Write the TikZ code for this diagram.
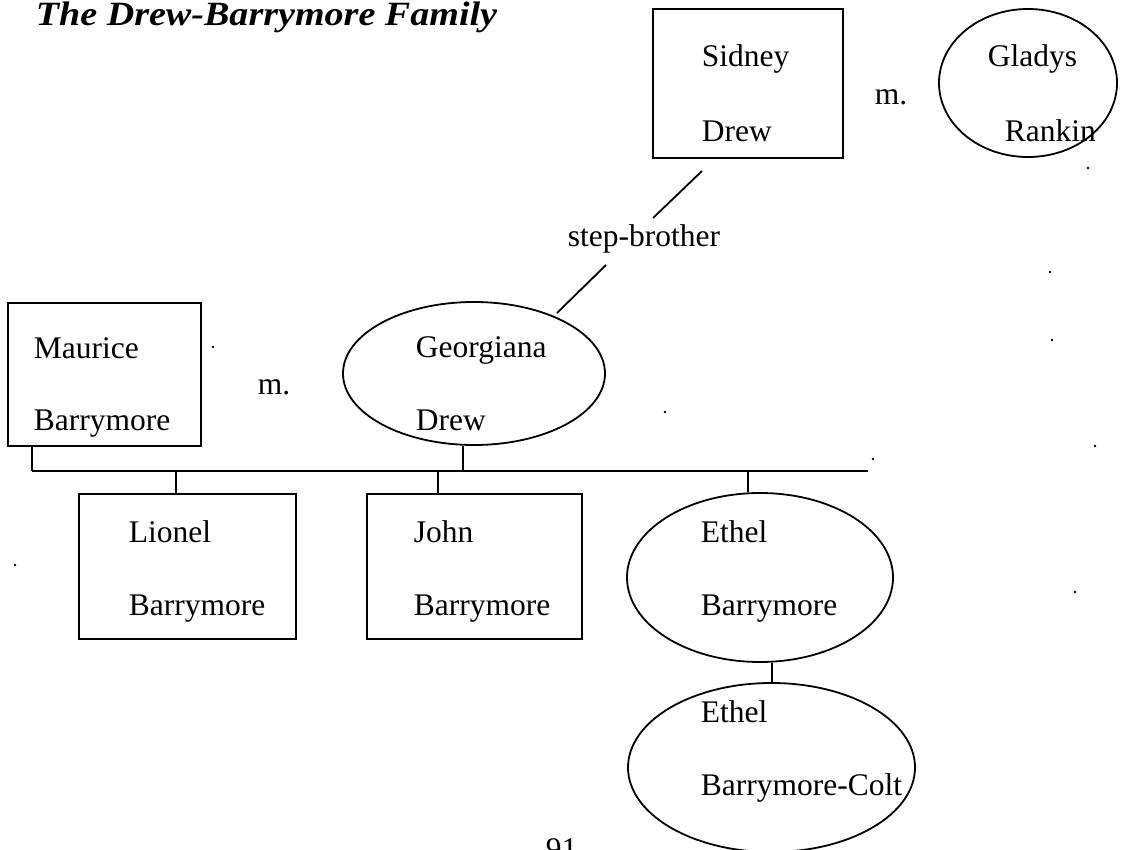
\documentclass[tikz,border=0pt]{standalone}
\usepackage{fontspec}
\setmainfont{Liberation Serif}
\usetikzlibrary{shapes.geometric,calc}
\begin{document}
\begin{tikzpicture}[x=1pt,y=-1pt,
  line width=1.8pt,
  box/.style={draw, rectangle, inner sep=0pt},
  oval/.style={draw, ellipse, inner sep=0pt},
  txt/.style={anchor=base west, inner sep=0pt, font=\fontsize{31.5}{36}\selectfont},
  ttl/.style={anchor=base west, inner sep=0pt, font=\fontsize{34}{40}\selectfont\bfseries\itshape},
  speck/.style={fill=black, draw=none}]
\useasboundingbox (0,0) rectangle (1127,850);

% title
\node[ttl] (title) at (35,26) {\scalebox{1.12}[1]{The Drew-Barrymore Family}};

% Sidney Drew m. Gladys Rankin
\node[box, minimum width=190pt, minimum height=149pt] (sid) at (748,83.5) {};
\node[txt] (sidA) at (701,67) {Sidney};
\node[txt] (sidB) at (701,142) {Drew};
\node[txt] (m1) at (874,105) {m.};
\node[oval, minimum width=178pt, minimum height=148pt] (gla) at (1028,83) {};
\node[txt] (glaA) at (987,67) {Gladys};
\node[txt] (glaB) at (1004,142) {Rankin};

% Maurice Barrymore m. Georgiana Drew
\node[box, minimum width=193pt, minimum height=143pt] (mau) at (104.5,374.5) {};
\node[txt] (mauA) at (33,358) {Maurice};
\node[txt] (mauB) at (33,430) {Barrymore};
\node[txt] (m2) at (257,394) {m.};
\node[oval, minimum width=262pt, minimum height=143pt] (geo) at (474,373.5) {};
\node[txt] (geoA) at (415,357) {Georgiana};
\node[txt] (geoB) at (415,430) {Drew};

% step-brother link
\coordinate (s1) at (702,171);
\coordinate (s2) at (653,218);
\coordinate (s3) at (606,265);
\coordinate (s4) at (557,313);
\node[txt] (step) at (567,247) {step-brother};
\draw (s1) -- (s2);
\draw (s3) -- (s4);

% children
\node[box, minimum width=217pt, minimum height=145pt] (lio) at (187.5,566.5) {};
\node[txt] (lioA) at (128,542) {Lionel};
\node[txt] (lioB) at (128,615) {Barrymore};
\node[box, minimum width=215pt, minimum height=145pt] (joh) at (474.5,566.5) {};
\node[txt] (johA) at (413,542) {John};
\node[txt] (johB) at (413,615) {Barrymore};
\node[oval, minimum width=266pt, minimum height=169pt] (eth) at (760,577.5) {};
\node[txt] (ethA) at (700,542) {Ethel};
\node[txt] (ethB) at (700,615) {Barrymore};
\node[oval, minimum width=287pt, minimum height=169pt] (ebc) at (771.5,767.5) {};
\node[txt] (ebcA) at (700,722) {Ethel};
\node[txt] (ebcB) at (700,795) {Barrymore-Colt};

% family bar
\coordinate (barL) at (32,471);
\coordinate (barR) at (868,471);
\draw (barL) -- (barR);
\draw (mau.south -| barL) -- (barL);
\draw ([xshift=-11pt]geo.south) -- ([xshift=-11pt]geo.south |- barL);
\draw ([xshift=-11.5pt]lio.north) -- ([xshift=-11.5pt]lio.north |- barL);
\draw ([xshift=-36.5pt]joh.north) -- ([xshift=-36.5pt]joh.north |- barL);
\draw ([xshift=-12pt]eth.north) -- ([xshift=-12pt]eth.north |- barL);
\draw ([xshift=12pt]eth.south) -- ([xshift=12pt]eth.south |- ebc.north);

% page number
\node[txt] (page) at (545,859) {91};

% scan specks
\foreach \p in {(213,347),(1088,168),(873,459),(1095,446),(1075,592),(823,652),(665,412),(1050,272),(1052,340),(15,565)}
  \fill[speck] \p circle (1.3);
\end{tikzpicture}
\end{document}
